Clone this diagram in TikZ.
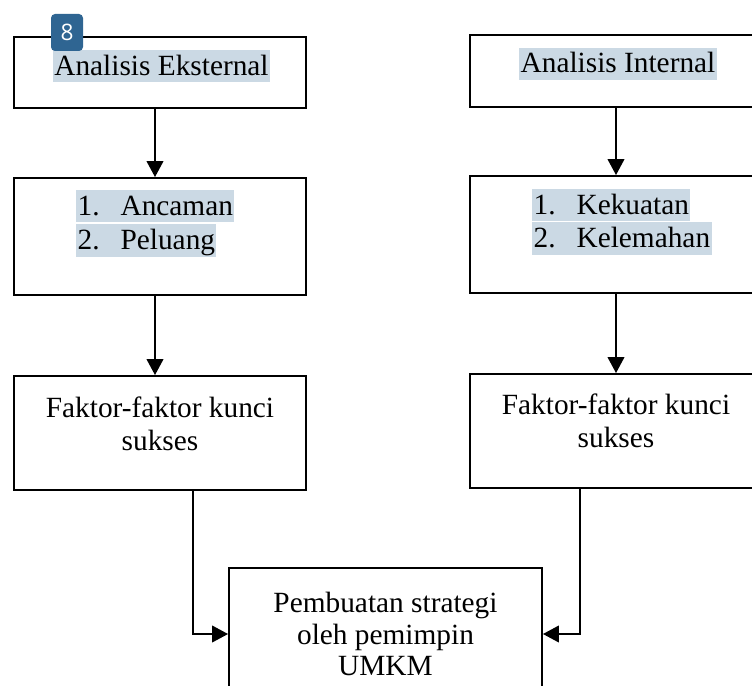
\documentclass[tikz,border=0pt]{standalone}
\usepackage{fontspec}
\setmainfont{Liberation Serif}
\newfontfamily\badgefont{Open Sans}
\usetikzlibrary{arrows.meta}
\definecolor{hlblue}{HTML}{CBD9E4}
\definecolor{badgeblue}{HTML}{2F6592}
\def\numw{32.25pt}
\newcommand{\itm}[2]{\makebox[\numw][l]{#1}#2}
\tikzset{
semithick, % lines
>={Triangle[length=12pt,width=12.5pt]}, % filled tips
my box/.style={draw,rectangle,line width=1.4pt,minimum width=219pt,inner sep=0pt},
my text/.style={font=\fontsize{22}{25}\selectfont,inner sep=0pt},
my hl/.style={my text,fill=hlblue,text height=19pt,text depth=5.5pt,inner xsep=1pt},
my badge/.style={fill=badgeblue,text=white,rounded corners=3pt,minimum width=24pt,
  minimum height=27.75pt,inner sep=0pt,font=\badgefont\fontsize{17}{17}\selectfont},
link/.style={->,line width=1.4pt}
}
\begin{document}
\begin{tikzpicture}[x=0.75pt,y=-0.75pt]
\useasboundingbox (0,0) rectangle (752,685);
\clip (0,0) rectangle (752,685);
% left column
\node[my box,minimum height=53.25pt] (ext)  at (160,72.5) {};
\node[my box,minimum height=87.75pt] (peluang) at (160,236.5) {};
\node[my box,minimum height=85.5pt]  (fakext) at (160,433) {};
% right column
\node[my box,minimum height=54pt]    (int)  at (616,71) {};
\node[my box,minimum height=87.75pt] (kekuatan) at (616,234.5) {};
\node[my box,minimum height=85.5pt]  (fakint) at (616,431) {};
% strategy
\node[my box,minimum width=234.75pt,minimum height=99pt,align=center,
  font=\fontsize{22}{23.5}\selectfont] (strategi) at (385.5,634)
  {Pembuatan strategi\\oleh pemimpin\\UMKM};
% texts
\node[my hl,anchor=base] (t1) at (161.5,75) {Analisis Eksternal};
\node[my hl,anchor=base] (t2) at (618,73) {Analisis Internal};
\node[my hl,anchor=base west] (a1) at (76,215) {\itm{1.}{Ancaman}};
\node[my hl,anchor=base west] (a2) at (76,249.5) {\itm{2.}{Peluang}};
\node[my hl,anchor=base west] (k1) at (532,214) {\itm{1.}{Kekuatan}};
\node[my hl,anchor=base west] (k2) at (532,247.5) {\itm{2.}{Kelemahan}};
\node[my text,align=center,font=\fontsize{22}{24.75pt}\selectfont] (f1) at (160,424) {Faktor-faktor kunci\\sukses};
\node[my text,align=center,font=\fontsize{22}{24.75pt}\selectfont] (f2) at (616,421) {Faktor-faktor kunci\\sukses};
% arrows
\draw[link] ([xshift=-3.75pt]ext.south) -- ([xshift=-3.75pt]peluang.north);
\draw[link] ([xshift=-3.75pt]peluang.south) -- ([xshift=-3.75pt]fakext.north);
\draw[link] (int.south) -- (kekuatan.north);
\draw[link] (kekuatan.south) -- (fakint.north);
\draw[link] ([xshift=24.75pt]fakext.south) |- (strategi.west);
\draw[link] ([xshift=-27pt]fakint.south) |- (strategi.east);
% page badge
\node[my badge] (badge) at (67,32.5) {8};
\end{tikzpicture}
\end{document}
